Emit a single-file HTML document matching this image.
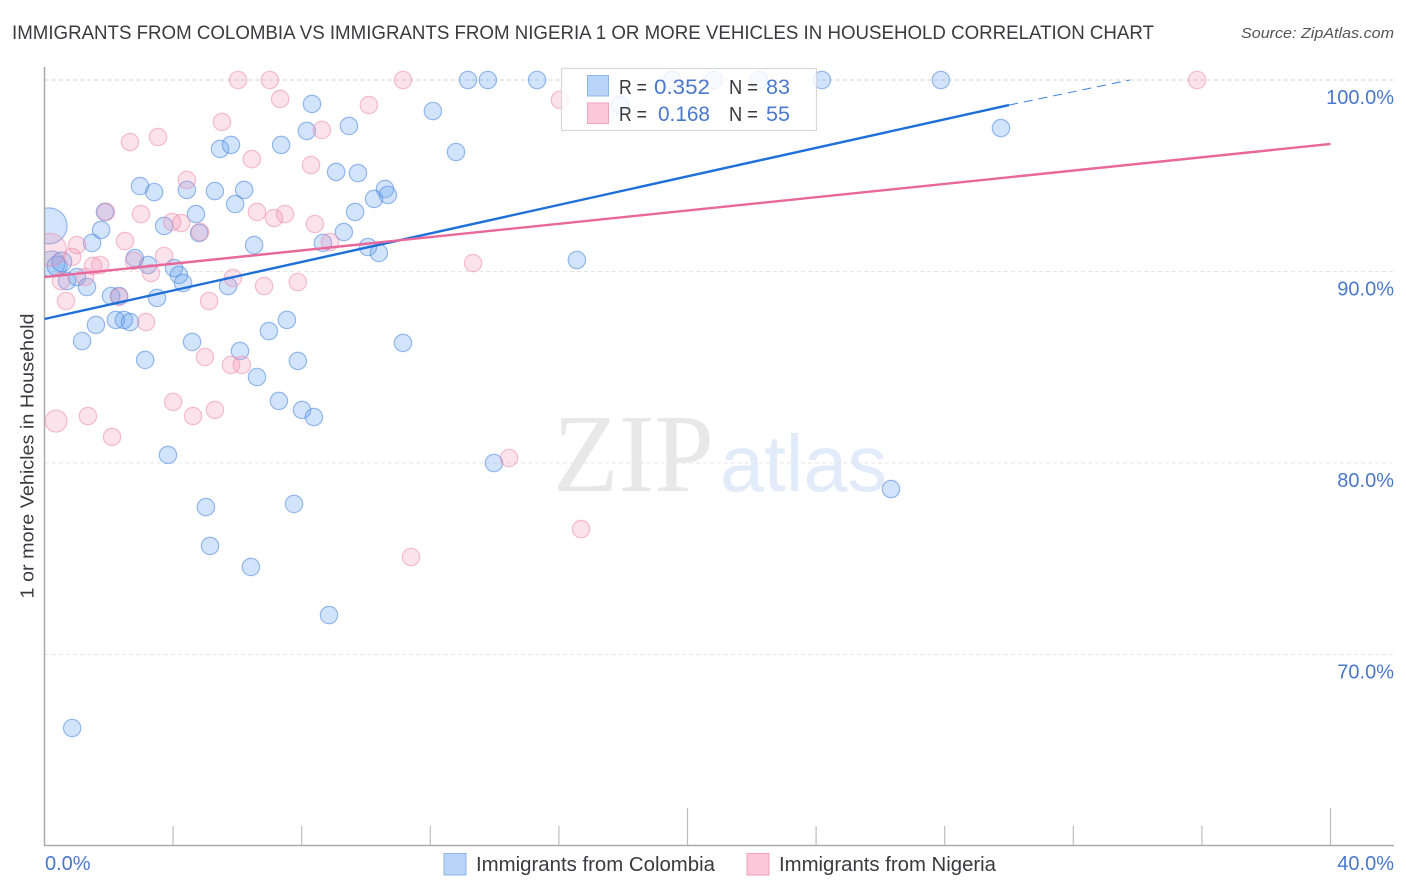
<!DOCTYPE html>
<html lang="en">
<head>
<meta charset="utf-8">
<title>Immigrants from Colombia vs Immigrants from Nigeria Correlation Chart</title>
<style>
html,body{margin:0;padding:0;background:#fff;}
body{width:1406px;height:892px;overflow:hidden;font-family:"Liberation Sans",sans-serif;}
svg{display:block;}
</style>
</head>
<body>
<svg id="chart" xmlns="http://www.w3.org/2000/svg" width="1406" height="892" viewBox="0 0 1406 892">
  <defs><clipPath id="plot-clip"><rect x="45" y="60" width="1349" height="786"/></clipPath></defs>
  <text x="12" y="39" font-size="19.5" fill="#3a3a40" textLength="1142" lengthAdjust="spacingAndGlyphs">IMMIGRANTS FROM COLOMBIA VS IMMIGRANTS FROM NIGERIA 1 OR MORE VEHICLES IN HOUSEHOLD CORRELATION CHART</text>
  <text x="1241" y="38" font-size="15" font-style="italic" fill="#555" textLength="153" lengthAdjust="spacingAndGlyphs">Source: ZipAtlas.com</text>
  <text x="553" y="491" font-family="'Liberation Serif',serif" font-size="111" fill="#e8e8e8" textLength="161" lengthAdjust="spacingAndGlyphs">ZIP</text>
  <text x="720" y="491" font-size="80" fill="#e2ebf9" textLength="167" lengthAdjust="spacingAndGlyphs">atlas</text>
  <g id="grid"></g>
  <g id="axes"></g>
  <g id="points" clip-path="url(#plot-clip)"></g>
  <g id="trends"></g>
  <text transform="translate(33.5 456) rotate(-90)" text-anchor="middle" font-size="18.5" fill="#3a3a40" textLength="285" lengthAdjust="spacingAndGlyphs">1 or more Vehicles in Household</text>
  <g id="tick-labels"></g>

  <g>
    <rect x="561.5" y="68.5" width="255" height="62" fill="#fff" fill-opacity="0.82" stroke="#d8d8d8" stroke-width="1.2"/>
    <rect x="587.5" y="75.5" width="21" height="20.5" fill="#b9d4f8" stroke="#8fb5e8" stroke-width="1"/>
    <rect x="587.5" y="103" width="21" height="20.5" fill="#fbc9d9" stroke="#f0a3bc" stroke-width="1"/>
    <g font-size="20" fill="#3a3a40">
      <text x="619" y="94" textLength="28" lengthAdjust="spacingAndGlyphs">R =</text>
      <text x="729" y="94" textLength="29" lengthAdjust="spacingAndGlyphs">N =</text>
      <text x="619" y="121" textLength="28" lengthAdjust="spacingAndGlyphs">R =</text>
      <text x="729" y="121" textLength="29" lengthAdjust="spacingAndGlyphs">N =</text>
    </g>
    <g font-size="21" fill="#4a78cc">
      <text x="654" y="94" textLength="56" lengthAdjust="spacingAndGlyphs">0.352</text>
      <text x="766" y="94" textLength="24" lengthAdjust="spacingAndGlyphs">83</text>
      <text x="658" y="121" textLength="52" lengthAdjust="spacingAndGlyphs">0.168</text>
      <text x="766" y="121" textLength="24" lengthAdjust="spacingAndGlyphs">55</text>
    </g>
  </g>

  <g>
    <rect x="444" y="853.5" width="22" height="21.5" fill="#b9d4f8" stroke="#8fb5e8" stroke-width="1"/>
    <text x="476" y="871" font-size="20" fill="#3a3a40" textLength="239" lengthAdjust="spacingAndGlyphs">Immigrants from Colombia</text>
    <rect x="747" y="853.5" width="22" height="21.5" fill="#fbc9d9" stroke="#f0a3bc" stroke-width="1"/>
    <text x="779" y="871" font-size="20" fill="#3a3a40" textLength="217" lengthAdjust="spacingAndGlyphs">Immigrants from Nigeria</text>
  </g>
</svg>
<script>
const colombiaX = [0.14,0.23,0.39,0.54,0.70,1.01,1.32,1.48,1.76,1.88,2.07,2.32,1.60,1.17,2.22,2.47,2.66,2.97,3.41,2.81,3.22,3.50,3.72,4.03,4.18,4.31,4.43,4.71,4.81,5.30,4.59,3.13,6.08,5.71,5.93,6.21,6.52,5.46,5.80,7.36,8.16,8.32,9.07,6.98,7.54,7.88,8.66,9.31,9.47,9.75,6.61,7.29,8.01,8.38,3.84,5.02,5.15,6.42,7.76,8.85,0.86,9.66,10.25,10.59,10.68,10.06,10.40,11.15,12.08,12.80,13.17,13.79,15.32,16.56,13.98,26.33,29.75,27.88,24.18,22.22,20.82,19.52,17.90];
const colombiaY = [92.38,90.40,90.29,90.50,89.50,89.71,89.19,91.49,92.17,93.11,88.72,88.72,87.21,86.37,87.47,87.47,87.36,94.46,94.15,90.70,90.34,88.62,92.38,90.18,89.82,89.40,94.26,93.00,92.01,94.20,86.32,85.38,85.85,89.24,93.52,94.26,91.38,96.40,96.61,96.61,97.34,98.75,95.20,86.89,87.47,85.33,91.49,92.06,97.60,95.14,84.49,83.24,82.77,82.40,80.42,77.70,75.67,74.57,77.86,72.06,66.16,93.11,93.79,94.31,94.00,91.28,90.97,86.27,98.38,96.24,100,100,100,90.60,80.00,78.64,97.49,100,100,100,100,100,98.69];
const colombiaWeights = [4.3,2.2,1.3,1.3];

const nigeriaX = [6.02,7.01,7.33,5.52,2.66,3.53,8.63,6.45,8.29,4.43,3.00,1.91,3.97,4.25,4.84,6.61,7.14,7.48,8.41,8.88,2.50,1.01,0.17,0.86,1.51,1.73,2.78,3.72,3.31,5.86,1.26,0.51,6.83,7.88,5.12,0.67,2.32,3.16,5.80,6.14,4.99,4.00,4.62,5.30,1.35,2.10,0.36,14.45,16.69,11.40,13.33,11.15,16.03,35.85,10.09];
const nigeriaY = [100,100,99.01,97.81,96.76,97.02,97.39,95.87,95.56,94.78,93.00,93.11,92.58,92.53,92.06,93.11,92.79,93.00,92.48,91.54,91.59,91.38,91.13,90.76,90.29,90.34,90.55,90.81,89.92,89.66,89.71,89.50,89.24,89.45,88.46,88.46,88.67,87.36,85.12,85.12,85.53,83.19,82.45,82.77,82.45,81.36,82.19,80.26,76.55,75.09,90.44,100,98.96,100,98.69];
const nigeriaWeights = {22: 3.6, 46: 1.6};

const colombiaTrendX = [0, 30];
const colombiaTrendY = [87.52, 98.69];
const colombiaProjectionX = [30, 33.76];
const colombiaProjectionY = [98.69, 100];
const nigeriaTrendX = [0, 40];
const nigeriaTrendY = [89.71, 96.66];

const yTicks = [100, 90, 80, 70];
const yTickLabels = ["100.0%", "90.0%", "80.0%", "70.0%"];
const xTicks = [0, 4, 8, 12, 16, 20, 24, 28, 32, 36, 40];
const xEndLabels = ["0.0%", "40.0%"];

const NS = "http://www.w3.org/2000/svg";
const xScale = v => 44.5 + v * 32.15;
const yScale = v => 80 + (100 - v) * 19.15;

function make(tag, parent, attrs, text) {
  const el = document.createElementNS(NS, tag);
  for (const k in attrs) el.setAttribute(k, attrs[k]);
  if (text !== undefined) el.textContent = text;
  parent.appendChild(el);
  return el;
}

const grid = document.getElementById("grid");
const axes = document.getElementById("axes");
const labels = document.getElementById("tick-labels");
const points = document.getElementById("points");
const trends = document.getElementById("trends");

yTicks.forEach((t, i) => {
  const line = make("line", grid, {x1: 45, x2: 1394, y1: yScale(t), y2: yScale(t), stroke: i === 0 ? "#d2d2d6" : "#e6e6e8", "stroke-width": 1, "stroke-dasharray": "4 3"});
  
  
  const label = make("text", labels, {x: 1394, y: yScale(t) + 24, "text-anchor": "end", "font-size": 20, fill: "#4a78cc"}, yTickLabels[i]);
  
  
});

const yAxis = make("line", axes, {x1: 44.5, x2: 44.5, y1: 67, y2: 846, stroke: "#aaaaaa", "stroke-width": 1.5});


const xAxis = make("line", axes, {x1: 44, x2: 1394, y1: 845.5, y2: 845.5, stroke: "#aaaaaa", "stroke-width": 1.5});



xTicks.slice(1).forEach(t => {
  const tall = t === 20 || t === 40;
  const tick = make("line", axes, {x1: xScale(t), x2: xScale(t), y1: tall ? 808 : 826, y2: 845, stroke: "#bdbdbd", "stroke-width": 1.2});
  
  
});

const xLabelStart = make("text", labels, {x: 45, y: 870, "font-size": 20, fill: "#4a78cc"}, xEndLabels[0]);


const xLabelEnd = make("text", labels, {x: 1394, y: 870, "text-anchor": "end", "font-size": 20, fill: "#4a78cc"}, xEndLabels[1]);



colombiaX.forEach((x, i) => {
  const w = colombiaWeights[i] || 1;
  const c = make("circle", points, {cx: xScale(x), cy: yScale(colombiaY[i]), r: 8.7 * Math.sqrt(w), fill: "#5f9df0", "fill-opacity": 0.28, stroke: "#4a86dc", "stroke-opacity": 0.55, "stroke-width": 1.2});
  
  
});
nigeriaX.forEach((x, i) => {
  const w = nigeriaWeights[i] || 1;
  const c = make("circle", points, {cx: xScale(x), cy: yScale(nigeriaY[i]), r: 8.7 * Math.sqrt(w), fill: "#f590b2", "fill-opacity": 0.26, stroke: "#ec86a8", "stroke-opacity": 0.5, "stroke-width": 1.2});
  
  
});

const blueLine = make("line", trends, {x1: xScale(colombiaTrendX[0]), y1: yScale(colombiaTrendY[0]), x2: xScale(colombiaTrendX[1]), y2: yScale(colombiaTrendY[1]), stroke: "#1f6fd8", "stroke-width": 2.4});


const blueDash = make("line", trends, {x1: xScale(colombiaProjectionX[0]), y1: yScale(colombiaProjectionY[0]), x2: xScale(colombiaProjectionX[1]), y2: yScale(colombiaProjectionY[1]), stroke: "#3d7fdc", "stroke-width": 1, "stroke-dasharray": "9 6"});


const pinkLine = make("line", trends, {x1: xScale(nigeriaTrendX[0]), y1: yScale(nigeriaTrendY[0]), x2: xScale(nigeriaTrendX[1]), y2: yScale(nigeriaTrendY[1]), stroke: "#e8689a", "stroke-width": 2.4});


</script>
</body>
</html>
